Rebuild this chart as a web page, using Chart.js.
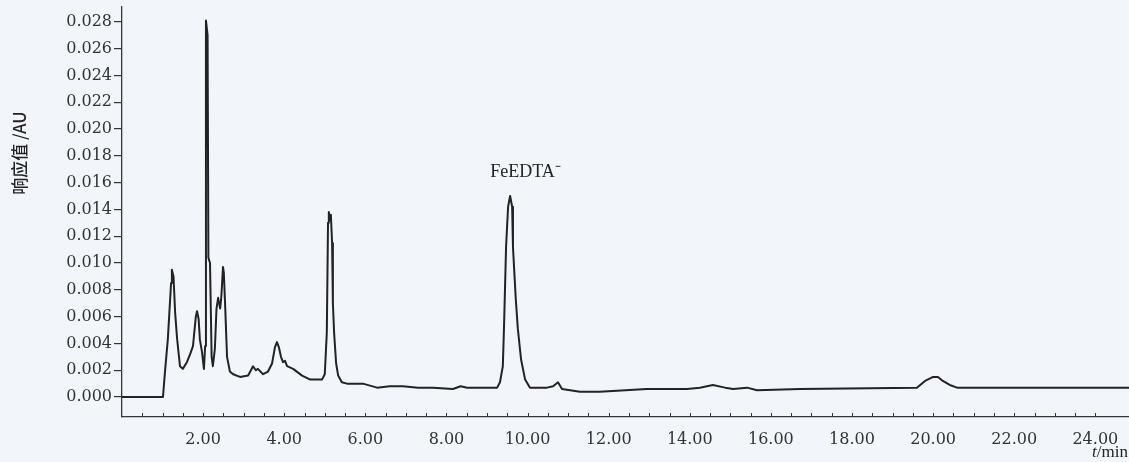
<!DOCTYPE html>
<html>
<head>
<meta charset="utf-8">
<script src="https://cdn.jsdelivr.net/npm/chart.js@4.4.1/dist/chart.umd.min.js"></script>
<style>
    html, body { margin: 0; padding: 0; background: #f2f5fa; }
</style>
</head>
<body>
<canvas id="myChart" width="1129" height="462"></canvas>
<script>
    // retention time (min) and detector response (AU)
    var times = [
        0.00, 1.01, 1.06, 1.13, 1.21, 1.23, 1.27, 1.31, 1.36, 1.43,
        1.50, 1.60, 1.68, 1.75, 1.82, 1.85, 1.89, 1.92, 1.97, 2.02,
        2.05, 2.07, 2.11, 2.13, 2.17, 2.21, 2.24, 2.29, 2.33, 2.37,
        2.42, 2.45, 2.49, 2.51, 2.54, 2.59, 2.66, 2.74, 2.91, 3.11,
        3.18, 3.23, 3.30, 3.35, 3.48, 3.60, 3.70, 3.77, 3.82, 3.87,
        3.92, 3.97, 4.02, 4.07, 4.22, 4.44, 4.64, 4.93, 5.00, 5.05,
        5.08, 5.10, 5.13, 5.15, 5.18, 5.20, 5.23, 5.28, 5.33, 5.42,
        5.55, 5.94, 6.29, 6.60, 6.93, 7.30, 7.67, 8.16, 8.35, 8.51,
        9.25, 9.32, 9.39, 9.42, 9.47, 9.52, 9.57, 9.62, 9.64, 9.71,
        9.76, 9.84, 9.94, 10.06, 10.48, 10.63, 10.75, 10.85, 11.29, 11.78,
        12.94, 13.93, 14.25, 14.57, 14.87, 15.07, 15.41, 15.66, 16.72, 19.60,
        19.80, 20.00, 20.12, 20.24, 20.41, 20.59, 22.07, 24.83
    ];
    var response = [
        0.0000, 0.0000, 0.0019, 0.0043, 0.0085, 0.0095, 0.0090, 0.0063, 0.0043, 0.0023,
        0.0021, 0.0026, 0.0032, 0.0038, 0.0060, 0.0064, 0.0058, 0.0043, 0.0034, 0.0021,
        0.0038, 0.0281, 0.0270, 0.0104, 0.0100, 0.0030, 0.0023, 0.0036, 0.0066, 0.0074,
        0.0066, 0.0075, 0.0097, 0.0093, 0.0071, 0.0030, 0.0019, 0.0017, 0.0015, 0.0016,
        0.0020, 0.0023, 0.0020, 0.0021, 0.0017, 0.0019, 0.0025, 0.0037, 0.0041, 0.0037,
        0.0030, 0.0026, 0.0027, 0.0023, 0.0021, 0.0016, 0.0013, 0.0013, 0.0017, 0.0048,
        0.0130, 0.0138, 0.0132, 0.0136, 0.0115, 0.0070, 0.0048, 0.0025, 0.0016, 0.0011,
        0.0010, 0.0010, 0.0007, 0.0008, 0.0008, 0.0007, 0.0007, 0.0006, 0.0008, 0.0007,
        0.0007, 0.0011, 0.0023, 0.0053, 0.0112, 0.0142, 0.0150, 0.0142, 0.0112, 0.0073,
        0.0051, 0.0028, 0.0013, 0.0007, 0.0007, 0.0008, 0.0011, 0.0006, 0.0004, 0.0004,
        0.0006, 0.0006, 0.0007, 0.0009, 0.0007, 0.0006, 0.0007, 0.0005, 0.0006, 0.0007,
        0.0012, 0.0015, 0.0015, 0.0012, 0.0009, 0.0007, 0.0007, 0.0007
    ];

    var xLabels = [2, 4, 6, 8, 10, 12, 14, 16, 18, 20, 22, 24];
    var yLabels = [0, 0.002, 0.004, 0.006, 0.008, 0.010, 0.012, 0.014,
                   0.016, 0.018, 0.020, 0.022, 0.024, 0.026, 0.028];

    var yTitle = '响应值 /AU';
    var peakLabel = 'FeEDTA\u207B';
    var peakLabelAt = { x: 9.95, y: 0.0164 };

    var inkColor = '#232323';
    var axisColor = '#34343f';

    var points = times.map(function (t, i) {
        return { x: t, y: response[i] };
    });

    var extras = {
        id: 'extras',
        afterDraw: function (chart) {
            var ctx = chart.ctx;
            var xs = chart.scales.x;
            var ys = chart.scales.y;
            ctx.save();

            // small ticks every 0.5 min pointing up into the plot
            ctx.strokeStyle = axisColor;
            ctx.lineWidth = 1;
            xs.ticks.forEach(function (t) {
                if (t.value <= 0) return;
                if (Math.abs(t.value * 2 - Math.round(t.value * 2)) > 1e-6) return;
                var px = Math.round(xs.getPixelForValue(t.value)) + 0.5;
                ctx.beginPath();
                ctx.moveTo(px, ys.bottom);
                ctx.lineTo(px, ys.bottom - 4);
                ctx.stroke();
            });

            // peak label
            ctx.fillStyle = inkColor;
            ctx.font = '18px "Liberation Serif"';
            ctx.textAlign = 'center';
            ctx.textBaseline = 'alphabetic';
            ctx.fillText(peakLabel, xs.getPixelForValue(peakLabelAt.x), ys.getPixelForValue(peakLabelAt.y));

            // x axis unit, t in italics
            ctx.textAlign = 'right';
            ctx.font = '17px "Liberation Serif"';
            var right = chart.width - 1;
            ctx.fillText('/min', right, 457);
            var w = ctx.measureText('/min').width;
            ctx.font = 'italic 17px "Liberation Serif"';
            ctx.fillText('t', right - w, 457);

            // y axis title
            ctx.translate(20, 153);
            ctx.rotate(-Math.PI / 2);
            ctx.textAlign = 'center';
            ctx.textBaseline = 'middle';
            ctx.font = '500 17px "Noto Sans CJK SC"';
            ctx.fillText(yTitle, 0, 0);
            ctx.restore();
        }
    };

    var chart = new Chart('myChart', {
        type: 'line',
        data: {
            datasets: [{
                data: points,
                borderColor: inkColor,
                borderWidth: 2,
                borderJoinStyle: 'round',
                pointRadius: 0,
                tension: 0,
                fill: false
            }]
        },
        options: {
            responsive: false,
            animation: false,
            devicePixelRatio: 1,
            layout: { padding: { top: 7, right: 0, left: 0, bottom: 0 } },
            plugins: {
                legend: { display: false },
                tooltip: { enabled: false }
            },
            scales: {
                x: {
                    type: 'linear',
                    min: 0,
                    max: 24.83,
                    afterFit: function (scale) {
                        scale.height = 45;
                        scale.paddingLeft = 0;
                        scale.paddingRight = 0;
                    },
                    grid: { display: false },
                    border: { display: true, color: axisColor, width: 1.3 },
                    ticks: {
                        stepSize: 0.5,
                        autoSkip: false,
                        maxRotation: 0,
                        padding: 5,
                        color: '#333',
                        font: { family: 'DejaVu Serif', size: 16 },
                        callback: function (v) {
                            return xLabels.indexOf(v) >= 0 ? v.toFixed(2) : '';
                        }
                    }
                },
                y: {
                    min: -0.00149,
                    max: 0.0291,
                    afterBuildTicks: function (scale) {
                        scale.ticks = yLabels.map(function (v) { return { value: v }; });
                    },
                    afterFit: function (scale) {
                        scale.width = 122;
                        scale.paddingTop = 0;
                        scale.paddingBottom = 0;
                    },
                    grid: {
                        drawOnChartArea: false,
                        tickLength: 8,
                        tickColor: axisColor,
                        lineWidth: 1.2
                    },
                    border: { display: true, color: axisColor, width: 1.3 },
                    ticks: {
                        padding: 2,
                        color: '#333',
                        font: { family: 'DejaVu Serif', size: 16 },
                        callback: function (v) { return v.toFixed(3); }
                    }
                }
            }
        },
        plugins: [extras]
    });
</script>
</body>
</html>
